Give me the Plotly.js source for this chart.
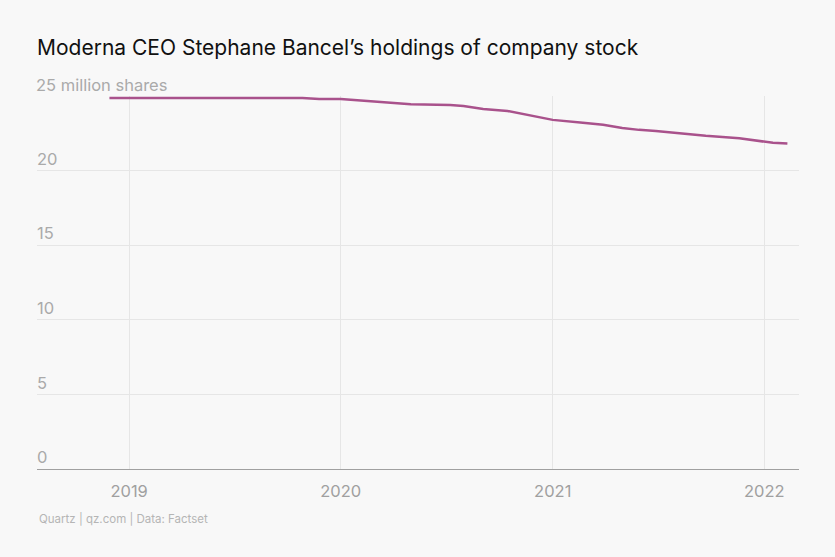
<!DOCTYPE html>
<html>
<head>
<meta charset="utf-8">
<script src="https://cdn.plot.ly/plotly-3.0.1.min.js"></script>
<style>
  html, body { margin: 0; padding: 0; background: #f8f8f8; }
  #chart { width: 835px; height: 557px; }
</style>
</head>
<body>
<div id="chart"></div>
<script>
// Holdings, in millions of shares
const dates = [
  '2018-11-28', '2019-03-01', '2019-06-01', '2019-10-27', '2019-11-25', '2020-01-01',
  '2020-05-01', '2020-07-08', '2020-07-31', '2020-09-03', '2020-10-15', '2020-11-10',
  '2021-01-01', '2021-02-22', '2021-03-29', '2021-05-01', '2021-05-30', '2021-06-28',
  '2021-07-26', '2021-09-22', '2021-11-19', '2021-12-06', '2021-12-29', '2022-01-16',
  '2022-02-10'
];
const shares = [
  24.87, 24.87, 24.87, 24.87, 24.8, 24.8,
  24.45, 24.4, 24.33, 24.13, 24.0, 23.8,
  23.4, 23.2, 23.07, 22.86, 22.73, 22.66,
  22.55, 22.33, 22.17, 22.08, 21.93, 21.86,
  21.81
];
const yTickVals = [0, 5, 10, 15, 20, 25];
const yTickText = ['0', '5', '10', '15', '20', ''];
const yTopLabel = '25 million shares';
const xTickVals = ['2019-01-01', '2020-01-01', '2021-01-01', '2022-01-01'];
const xTickText = ['2019', '2020', '2021', '2022'];

const font = 'Inter, "Liberation Sans", sans-serif';

const trace = {
  x: dates, y: shares,
  type: 'scatter', mode: 'lines',
  line: { color: '#a9528c', width: 2.5 },
  hoverinfo: 'skip'
};

const layout = {
  width: 835, height: 557,
  paper_bgcolor: '#f8f8f8', plot_bgcolor: '#f8f8f8',
  margin: { l: 37, r: 36, t: 96, b: 88 },
  font: { family: font, color: '#a5a5a5' },
  showlegend: false,
  title: {
    text: 'Moderna CEO Stephane Bancel’s holdings of company stock',
    font: { family: font, size: 21, color: '#111' },
    x: 0, xref: 'paper', xanchor: 'left', y: 47, yref: 'container', yanchor: 'middle'
  },
  xaxis: {
    type: 'date',
    range: ['2018-07-26', '2022-03-02'],
    tickvals: xTickVals, ticktext: xTickText,
    showgrid: true, gridcolor: '#e6e6e6', gridwidth: 1,
    showline: true, linecolor: '#a0a0a0', linewidth: 1,
    zeroline: false, ticks: '',
    tickfont: { family: font, size: 16.5, color: '#a0a0a0' },
    ticklabelstandoff: 7
  },
  yaxis: {
    range: [0, 25],
    tickvals: yTickVals, ticktext: yTickText,
    showgrid: true, gridcolor: '#e6e6e6', gridwidth: 1,
    zeroline: false, showline: false, ticks: '',
    ticklabelposition: 'inside top',
    ticklabelstandoff: -3,
    tickfont: { family: font, size: 16.5, color: '#aaaaaa' }
  },
  annotations: [{
    text: yTopLabel,
    xref: 'paper', yref: 'y', x: 0, y: yTickVals[yTickVals.length - 1],
    xanchor: 'left', yanchor: 'bottom', showarrow: false, xshift: -3, yshift: -1,
    font: { family: font, size: 16.5, color: '#aaaaaa' }
  }, {
    text: 'Quartz | qz.com | Data: Factset',
    xref: 'paper', yref: 'paper', x: 0, y: -0.133,
    xanchor: 'left', yanchor: 'middle', showarrow: false,
    font: { family: font, size: 11.5, color: '#b5b5b5' }
  }]
};

Plotly.newPlot('chart', [trace], layout, { staticPlot: true });
</script>
</body>
</html>
